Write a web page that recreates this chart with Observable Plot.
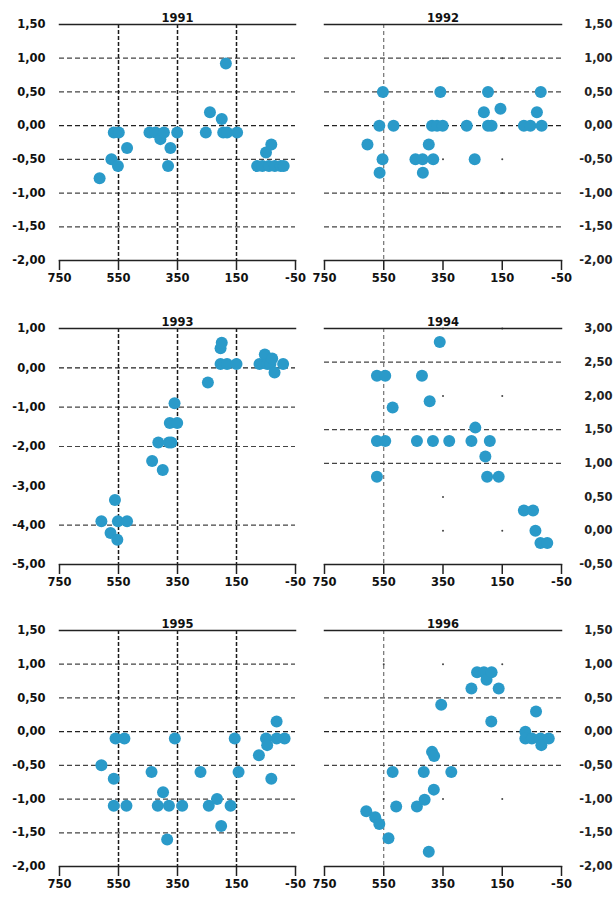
<!DOCTYPE html>
<html>
<head>
<meta charset="utf-8">
<script src="https://cdn.jsdelivr.net/npm/d3@7"></script>
<script src="https://cdn.jsdelivr.net/npm/@observablehq/plot@0.6"></script>
<style>
  html, body { margin: 0; padding: 0; background: #fff; }
  #wrap { position: relative; width: 613px; height: 901px; overflow: hidden; }
  .panel { position: absolute; }
  .panel svg { font-family: "DejaVu Sans", Verdana, sans-serif; font-weight: bold; font-size: 11.5px; color: #222; overflow: visible; }
</style>
</head>
<body>
<div id="wrap"></div>
<script>
// ---- data ----
const xTicks = [750, 550, 350, 150, -50];

const years = ["1991", "1992", "1993", "1994", "1995", "1996"];

const x1991 = [614, 574, 566, 549, 552, 521, 445, 425, 408, 396, 382, 374, 351, 254, 240, 200, 195, 186, 182, 148, 80, 62, 50, 32, 40, 20, 0, -10];
const y1991 = [-0.78, -0.5, -0.1, -0.1, -0.6, -0.33, -0.1, -0.1, -0.2, -0.1, -0.6, -0.33, -0.1, -0.1, 0.2, 0.1, -0.1, 0.92, -0.1, -0.1, -0.6, -0.6, -0.4, -0.28, -0.6, -0.6, -0.6, -0.6];

const x1992 = [605, 553, 565, 517, 554, 564, 443, 419, 383, 398, 418, 387, 370, 359, 351, 270, 243, 212, 198, 198, 186, 156, 77, 55, 33, 20, 17];
const y1992 = [-0.28, 0.5, 0, 0, -0.5, -0.7, -0.5, -0.5, -0.5, -0.28, -0.7, 0, 0, 0.5, 0, 0, -0.5, 0.2, 0.5, 0, 0, 0.25, 0, 0, 0.2, 0.5, 0];

const x1993 = [608, 562, 552, 521, 577, 554, 436, 400, 415, 379, 371, 376, 351, 360, 247, 204, 200, 204, 182, 150, 72, 54, 46, 35, 29, 21, -8];
const y1993 = [-3.9, -3.36, -3.9, -3.9, -4.2, -4.37, -2.37, -2.6, -1.9, -1.9, -1.9, -1.4, -1.4, -0.9, -0.37, 0.5, 0.64, 0.1, 0.1, 0.1, 0.1, 0.34, 0.1, 0.1, 0.24, -0.12, 0.1];

const x1994 = [573, 545, 573, 545, 573, 520, 421, 395, 361, 438, 384, 329, 254, 241, 207, 192, 201, 162, 77, 46, 38, 21, -2];
const y1994 = [2.3, 2.3, 1.33, 1.33, 0.8, 1.83, 2.3, 1.92, 2.8, 1.33, 1.33, 1.33, 1.33, 1.53, 1.1, 1.33, 0.8, 0.8, 0.3, 0.3, 0.0, -0.18, -0.18];

const x1995 = [608, 566, 566, 560, 530, 523, 438, 399, 417, 379, 385, 359, 334, 272, 244, 216, 202, 170, 156, 143, 74, 50, 46, 32, 14, 14, -13];
const y1995 = [-0.5, -0.7, -1.1, -0.1, -0.1, -1.1, -0.6, -0.9, -1.1, -1.1, -1.6, -0.1, -1.1, -0.6, -1.1, -1.0, -1.4, -1.1, -0.1, -0.6, -0.35, -0.1, -0.2, -0.7, 0.15, -0.1, -0.1];

const x1996 = [609, 579, 565, 534, 520, 508, 438, 412, 415, 381, 387, 380, 398, 356, 322, 254, 235, 212, 203, 186, 162, 187, 72, 72, 50, 36, 21, 18, -7];
const y1996 = [-1.18, -1.27, -1.37, -1.58, -0.6, -1.11, -1.11, -1.01, -0.6, -0.86, -0.3, -0.36, -1.78, 0.4, -0.6, 0.64, 0.88, 0.88, 0.77, 0.88, 0.64, 0.15, 0.0, -0.1, -0.1, 0.3, -0.1, -0.2, -0.1];

// y tick values per panel
const yTicks1991 = [1.5, 1, 0.5, 0, -0.5, -1, -1.5, -2];
const yTicks1993 = [1, 0, -1, -2, -3, -4, -5];
const yTicks1994 = [3, 2.5, 2, 1.5, 1, 0.5, 0, -0.5];

// gridlines as drawn in the reference (some are missing)
const hGrid1991 = [1, 0.5, 0, -0.5, -1, -1.5];
const hGrid1992 = [1, 0.5, 0, -1, -1.5];
const hGrid1993 = [0, -1, -2, -4];
const hGrid1994 = [2.5, 1.5, 1];
const hGrid1995 = [1, 0.5, 0, -0.5, -1, -1.5];
const hGrid1996 = [0.5, 0, -0.5];
const vGridFull = [550, 350, 150];
const vGridOne = [550];

// stray grid dots visible in the right-hand panels
const dotX1992 = [350, 150, 350, 150, 350, 150];
const dotY1992 = [1, 1, -0.5, -0.5, -1, -1];
const dotX1994 = [350, 150, 350, 150, 350, 350, 150];
const dotY1994 = [3, 3, 2, 2, 0.5, 0, 0];
const dotX1996 = [550, 350, 150, 550, 350, 150];
const dotY1996 = [1, 1, 1, -1, -1, -1];

const zip = (xs, ys) => xs.map((x, i) => ({x, y: ys[i]}));
const fmtY = d => d.toFixed(2).replace(".", ",");
const fmtX = d => String(d);

const panels = [
  {title: years[0], col: 0, row: 0, xs: x1991, ys: y1991, yDomain: [-2, 1.5], yTicks: yTicks1991, hGrid: hGrid1991, vGrid: vGridFull, gx: [], gy: []},
  {title: years[1], col: 1, row: 0, xs: x1992, ys: y1992, yDomain: [-2, 1.5], yTicks: yTicks1991, hGrid: hGrid1992, vGrid: vGridOne, gx: dotX1992, gy: dotY1992},
  {title: years[2], col: 0, row: 1, xs: x1993, ys: y1993, yDomain: [-5, 1], yTicks: yTicks1993, hGrid: hGrid1993, vGrid: vGridFull, gx: [], gy: []},
  {title: years[3], col: 1, row: 1, xs: x1994, ys: y1994, yDomain: [-0.5, 3], yTicks: yTicks1994, hGrid: hGrid1994, vGrid: vGridOne, gx: dotX1994, gy: dotY1994},
  {title: years[4], col: 0, row: 2, xs: x1995, ys: y1995, yDomain: [-2, 1.5], yTicks: yTicks1991, hGrid: hGrid1995, vGrid: vGridFull, gx: [], gy: []},
  {title: years[5], col: 1, row: 2, xs: x1996, ys: y1996, yDomain: [-2, 1.5], yTicks: yTicks1991, hGrid: hGrid1996, vGrid: vGridOne, gx: dotX1996, gy: dotY1996}
];

const rowTops = [0, 304, 606];
const wrap = document.getElementById("wrap");

for (const p of panels) {
  const left = p.col === 0;
  const width = left ? 305 : 308;
  const marginLeft = left ? 59 : 19;
  const marginRight = left ? 10 : 52;
  const vStroke = left ? "#1a1a1a" : "#555";
  const vWidth = left ? 1.5 : 1;
  const vDash = left ? "4,2" : "4,3";

  const chart = Plot.plot({
    width,
    height: 290,
    marginTop: 24,
    marginBottom: 30,
    marginLeft,
    marginRight,
    x: {domain: [750, -50], label: null},
    y: {domain: p.yDomain, label: null},
    marks: [
      Plot.ruleY(p.hGrid.filter(d => d !== 0), {stroke: "#444", strokeWidth: 1.2, strokeDasharray: "5,3"}),
      Plot.ruleY(p.hGrid.filter(d => d === 0), {stroke: "#222", strokeWidth: 1.2, strokeDasharray: "5,3"}),
      Plot.ruleX(p.vGrid, {stroke: vStroke, strokeWidth: vWidth, strokeDasharray: vDash}),
      Plot.dot(zip(p.gx, p.gy), {x: "x", y: "y", r: 1, fill: "#444", stroke: null}),
      Plot.frame({anchor: "top", stroke: "#222", strokeWidth: 1.5}),
      Plot.frame({anchor: "bottom", stroke: "#222", strokeWidth: 1.5}),
      Plot.axisX({anchor: "bottom", ticks: xTicks, tickFormat: fmtX, tickSize: 10, tickPadding: 3, stroke: "#222", strokeWidth: 1.5, fill: "#111", label: null}),
      left
        ? Plot.axisY({anchor: "left", ticks: p.yTicks, tickFormat: fmtY, tickSize: 0, tickPadding: 14, fill: "#111", label: null})
        : Plot.axisY({anchor: "right", ticks: p.yTicks, tickFormat: fmtY, tickSize: 0, tickPadding: 51, textAnchor: "end", fill: "#222", label: null}),
      Plot.dot(zip(p.xs, p.ys), {x: "x", y: "y", r: 6, fill: "#2a9ac9", stroke: null}),
      Plot.text([p.title], {frameAnchor: "top", dy: -11, text: d => d, fontWeight: "bold", fontSize: 11.5, fill: "#111"})
    ]
  });

  const div = document.createElement("div");
  div.className = "panel";
  div.style.left = (left ? 0 : 305) + "px";
  div.style.top = rowTops[p.row] + "px";
  div.appendChild(chart);
  wrap.appendChild(div);
}
</script>
</body>
</html>
